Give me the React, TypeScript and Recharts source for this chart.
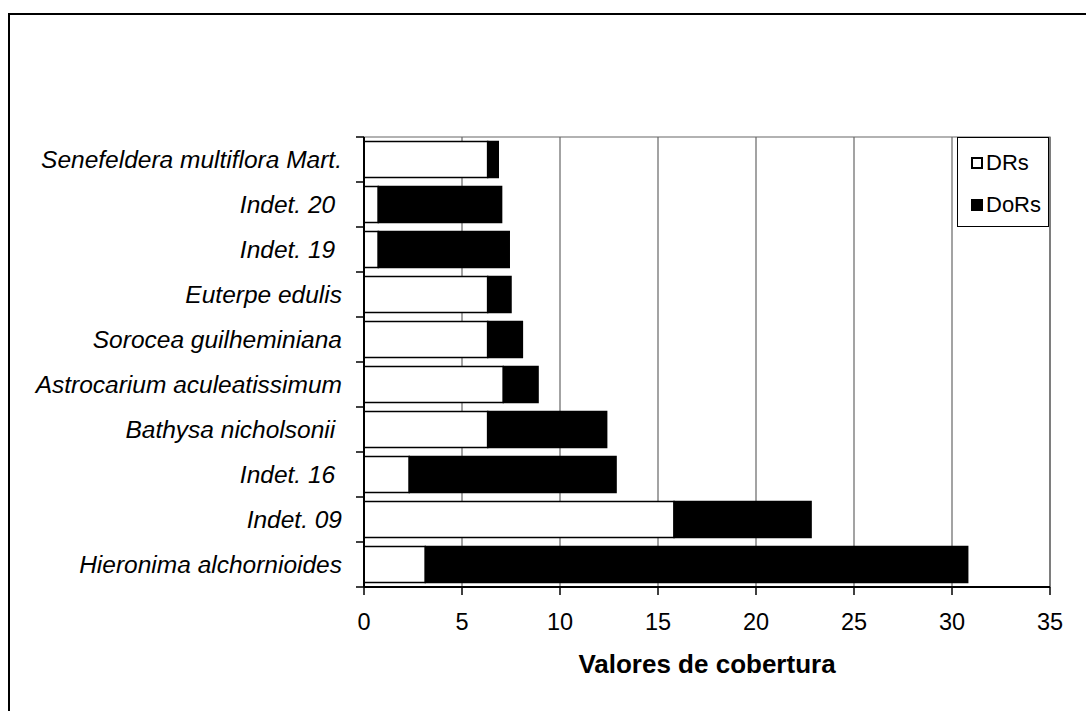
import React from 'react';
import {
  BarChart,
  Bar,
  XAxis,
  YAxis,
  CartesianGrid,
  ReferenceArea,
} from 'recharts';

const species = [
  'Senefeldera multiflora Mart.',
  'Indet. 20\u00a0',
  'Indet. 19\u00a0',
  'Euterpe edulis',
  'Sorocea guilheminiana',
  'Astrocarium aculeatissimum',
  'Bathysa nicholsonii\u00a0',
  'Indet. 16\u00a0',
  'Indet. 09',
  'Hieronima alchornioides',
];

const drs = [6.31, 0.73, 0.73, 6.31, 6.31, 7.11, 6.31, 2.31, 15.82, 3.13];
const dors = [0.54, 6.29, 6.68, 1.19, 1.77, 1.77, 6.07, 10.55, 6.99, 27.67];

const xTicks = [0, 5, 10, 15, 20, 25, 30, 35];

const seriesNames = ['DRs', 'DoRs'];
const seriesFills = ['#ffffff', '#000000'];

const data = species.map((name, i) => ({ name, drs: drs[i], dors: dors[i] }));

const FONT = '"Liberation Sans", Arial, sans-serif';

// chart geometry
const CHART_W = 1078;
const CHART_H = 698;
const MARGIN = { top: 124, right: 36, left: 0, bottom: 0 };
const Y_AXIS_W = 356;
const X_AXIS_H = 124;
const PLOT_H = CHART_H - MARGIN.top - X_AXIS_H;
const BAND = PLOT_H / species.length;

const CategoryTick = ({ x, y, payload, index }: any) => (
  <g>
    <text
      x={x}
      y={y}
      dy="0.35em"
      textAnchor="end"
      fontSize={24.5}
      fontStyle="italic"
      fontFamily={FONT}
      fill="#000"
      style={{ whiteSpace: 'pre' }}
    >
      {payload.value}
    </text>
    <line
      x1={Y_AXIS_W - 8}
      x2={Y_AXIS_W}
      y1={y - BAND / 2}
      y2={y - BAND / 2}
      stroke="#000"
      strokeWidth={1.5}
    />
    {index === species.length - 1 && (
      <line
        x1={Y_AXIS_W - 8}
        x2={Y_AXIS_W}
        y1={y + BAND / 2}
        y2={y + BAND / 2}
        stroke="#000"
        strokeWidth={1.5}
      />
    )}
  </g>
);

const LegendBox = () => (
  <div
    style={{
      position: 'absolute',
      left: 949,
      top: 124,
      width: 92,
      height: 90,
      boxSizing: 'border-box',
      border: '1px solid #000',
      background: '#fff',
      paddingTop: 4,
      fontFamily: FONT,
      fontSize: 22,
    }}
  >
    {seriesNames.map((n, i) => (
      <div
        key={n}
        style={{ height: 42, display: 'flex', alignItems: 'center', paddingLeft: 13 }}
      >
        <span
          style={{
            width: 12,
            height: 12,
            flexShrink: 0,
            boxSizing: 'border-box',
            border: '2px solid #000',
            background: seriesFills[i],
            marginRight: 3,
            display: 'inline-block',
          }}
        />
        <span>{n}</span>
      </div>
    ))}
  </div>
);

export default function App() {
  return (
    <div
      style={{
        position: 'absolute',
        left: 8,
        top: 13,
        width: CHART_W,
        height: CHART_H,
        background: '#fff',
      }}
    >
      {/* frame */}
      <div
        style={{
          position: 'absolute',
          inset: 0,
          borderTop: '2px solid #000',
          borderLeft: '2px solid #000',
          pointerEvents: 'none',
        }}
      />
      <BarChart
        width={CHART_W}
        height={CHART_H}
        data={data}
        layout="vertical"
        margin={MARGIN}
        barCategoryGap="10%"
        style={{ position: 'absolute', left: 0, top: 0 }}
      >
        <CartesianGrid horizontal={false} stroke="#666" strokeWidth={1.2} />
        <ReferenceArea
          x1={0}
          x2={35}
          fill="none"
          stroke="#666"
          strokeWidth={1.2}
          ifOverflow="visible"
        />
        <XAxis
          type="number"
          domain={[0, 35]}
          ticks={xTicks}
          interval={0}
          height={X_AXIS_H}
          tickSize={8}
          tickMargin={18}
          axisLine={{ stroke: '#000', strokeWidth: 2 }}
          tickLine={{ stroke: '#000', strokeWidth: 1.5 }}
          tick={{ fill: '#000', fontSize: 23.5, fontFamily: FONT }}
          label={{
            value: 'Valores de cobertura',
            position: 'insideBottom',
            offset: 38,
            fill: '#000',
            fontSize: 26,
            fontWeight: 'bold',
            fontFamily: FONT,
          }}
        />
        <YAxis
          type="category"
          dataKey="name"
          width={Y_AXIS_W}
          interval={0}
          tickSize={0}
          tickMargin={22}
          tickLine={false}
          axisLine={{ stroke: '#000', strokeWidth: 2 }}
          tick={<CategoryTick />}
        />
        <Bar
          dataKey="drs"
          name={seriesNames[0]}
          stackId="a"
          fill={seriesFills[0]}
          stroke="#000"
          strokeWidth={1.5}
          isAnimationActive={false}
        />
        <Bar
          dataKey="dors"
          name={seriesNames[1]}
          stackId="a"
          fill={seriesFills[1]}
          stroke="#000"
          strokeWidth={1.5}
          isAnimationActive={false}
        />
      </BarChart>
      <LegendBox />
    </div>
  );
}
